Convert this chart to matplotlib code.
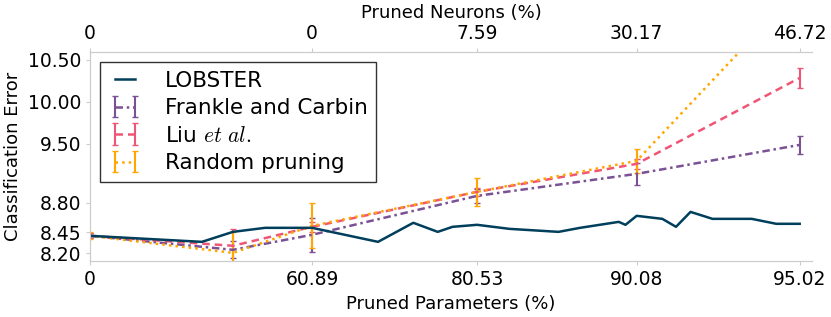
import numpy as np
import matplotlib
matplotlib.use("Agg")
import matplotlib.pyplot as plt

plt.rcParams['mathtext.fontset'] = 'cm'

# ---- data ----
lobster_params = [0, 37.7, 45.35, 52.3, 60.89, 70.4, 74.5, 77.0, 78.4, 80.53, 83.0,
                  86.2, 87.4, 89.3, 89.6, 90.08, 91.1, 91.6, 92.1, 92.8, 93.9, 94.5, 95.02]
lobster_err = [8.405, 8.333, 8.452, 8.50, 8.50, 8.333, 8.560, 8.452, 8.512, 8.536, 8.488,
               8.452, 8.50, 8.571, 8.536, 8.643, 8.607, 8.512, 8.690, 8.607, 8.607, 8.548, 8.548]

cmp_params = [0, 45.35, 60.89, 80.53, 90.08, 95.02]
frankle = [8.405, 8.238, 8.417, 8.881, 9.143, 9.488]
frankle_sd = [0.03, 0.10, 0.20, 0.08, 0.13, 0.11]
liu = [8.405, 8.286, 8.512, 8.929, 9.262, 10.286]
liu_sd = [0.03, 0.20, 0.06, 0.05, 0.06, 0.12]
rand = [8.405, 8.202, 8.524, 8.929, 9.298, 11.36]
rand_sd = [0.04, 0.25, 0.27, 0.167, 0.14, 0.12]

xticks = [0, 60.89, 80.53, 90.08, 95.02]
xtick_labels = ['0', '60.89', '80.53', '90.08', '95.02']
top_labels = ['0', '0', '7.59', '30.17', '46.72']
yticks = [8.20, 8.45, 8.80, 9.50, 10.00, 10.50]

c_lob, c_fr, c_liu, c_rand = '#003f5c', '#7a5195', '#ef5675', '#ffa600'

def fwd(p):
    p = np.asarray(p, dtype=float)
    return -np.log10(np.clip(1 - p / 100.0, 1e-9, None))

def inv(x):
    x = np.asarray(x, dtype=float)
    return 100.0 * (1 - 10 ** (-x))

fig = plt.figure(figsize=(8.31, 3.17), dpi=100)
ax = fig.add_axes([0.1083, 0.1767, 0.977 - 0.1083, 0.836 - 0.1767])
ax.set_xscale('function', functions=(fwd, inv))

fs_tick = 13.5
fs_lab = 13
fs_leg = 15.5
ax.plot(lobster_params, lobster_err, color=c_lob, lw=1.8, label='LOBSTER', zorder=5)
ax.errorbar(cmp_params, frankle, yerr=frankle_sd, color=c_fr, lw=1.8,
            ls=(0, (3, 1.5, 1, 1.5)), capsize=2.5, elinewidth=1.5, ecolor=c_fr,
            label='Frankle and Carbin', zorder=3)
ax.errorbar(cmp_params, liu, yerr=liu_sd, color=c_liu, lw=1.8, ls='--',
            dashes=(3, 2), capsize=2.5, elinewidth=1.5, label=r'Liu $et\ al.$', zorder=3)
ax.errorbar(cmp_params, rand, yerr=rand_sd, color=c_rand, lw=1.8, ls=':',
            capsize=2.5, elinewidth=1.5, label='Random pruning', zorder=3)

ax.set_xlim(0, 95.27)
ax.set_ylim(8.105, 10.595)
ax.set_xticks(xticks)
ax.set_xticklabels(xtick_labels, fontsize=fs_tick)
ax.xaxis.set_minor_locator(matplotlib.ticker.NullLocator())
ax.set_yticks(yticks)
ax.set_yticklabels(['%.2f' % v for v in yticks], fontsize=fs_tick)
ax.set_xlabel('Pruned Parameters (%)', fontsize=fs_lab)
ax.set_ylabel('Classification Error', fontsize=fs_lab)

ax2 = ax.twiny()
ax2.set_xscale('function', functions=(fwd, inv))
ax2.set_xlim(ax.get_xlim())
ax2.set_xticks(xticks)
ax2.set_xticklabels(top_labels, fontsize=fs_tick)
ax2.xaxis.set_minor_locator(matplotlib.ticker.NullLocator())
ax2.set_xlabel('Pruned Neurons (%)', fontsize=fs_lab)

for a in (ax, ax2):
    for s in a.spines.values():
        s.set_color('#cccccc')
    a.spines['right'].set_visible(False)
    a.tick_params(colors='#cccccc', labelcolor='black', length=3)

leg = ax.legend(loc='upper left', fontsize=fs_leg, frameon=True, fancybox=False,
                edgecolor='black', bbox_to_anchor=(0.014, 0.952), borderaxespad=0.0,
                handlelength=1.5, handletextpad=1.1, numpoints=2, labelspacing=0.35)
leg.get_frame().set_linewidth(1.0)

fig.savefig('out.png', dpi=100)
